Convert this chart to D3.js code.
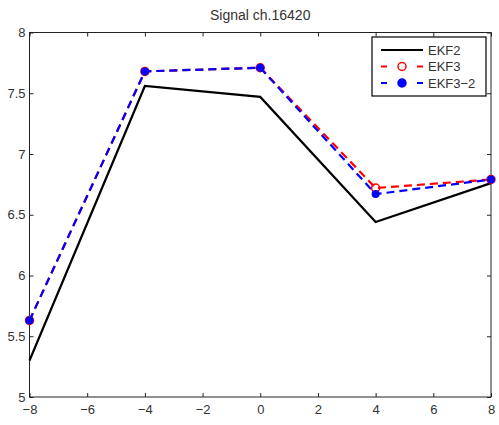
<!DOCTYPE html>
<html>
<head>
<meta charset="utf-8">
<script src="https://cdn.jsdelivr.net/npm/d3@7"></script>
<style>
body { margin: 0; background: #fff; }
text { font-family: "Liberation Sans", Arial, sans-serif; }
</style>
</head>
<body>
<div id="chart"></div>
<script>
var width = 499,
    height = 425;

// data
var xs = [-8, -4, 0, 4, 8];
var ekf2 = [5.30, 7.56, 7.47, 6.44, 6.76];
var ekf3 = [5.63, 7.68, 7.71, 6.72, 6.79];
var ekf3b = [5.63, 7.68, 7.71, 6.67, 6.79];
var xTicks = [-8, -6, -4, -2, 0, 2, 4, 6, 8];
var yTicks = [5, 5.5, 6, 6.5, 7, 7.5, 8];
var title = "Signal ch.16420";

var padL = 29.5, padR = 491, padT = 32.5, padB = 397;

var x = d3.scaleLinear().domain([-8, 8]).range([padL, padR]);
var y = d3.scaleLinear().domain([5, 8]).range([padB, padT]);

var svg = d3.select("#chart").append("svg")
        .attr("width", width)
        .attr("height", height);

var fmt = function (d) { return String(d).replace("-", "\u2212"); };

// frame
svg.append("rect")
        .attr("x", padL)
        .attr("y", padT)
        .attr("width", padR - padL)
        .attr("height", padB - padT)
        .attr("fill", "#fff")
        .attr("stroke", "#222")
        .attr("stroke-width", 1);

// axes, ticks pointing inward on all sides
var gx = svg.append("g")
        .attr("transform", "translate(0," + padB + ")")
        .call(d3.axisBottom(x).tickValues(xTicks).tickSize(-4).tickPadding(8).tickFormat(fmt));
var gxt = svg.append("g")
        .attr("transform", "translate(0," + padT + ")")
        .call(d3.axisTop(x).tickValues(xTicks).tickSize(-4).tickFormat(""));
var gy = svg.append("g")
        .attr("transform", "translate(" + padL + ",0)")
        .call(d3.axisLeft(y).tickValues(yTicks).tickSize(-4).tickPadding(4).tickFormat(fmt));
var gyr = svg.append("g")
        .attr("transform", "translate(" + padR + ",0)")
        .call(d3.axisRight(y).tickValues(yTicks).tickSize(-4).tickFormat(""));

[gx, gxt, gy, gyr].forEach(function (g) {
    g.select(".domain").remove();
    g.selectAll("line").attr("stroke", "#222");
    g.selectAll("text")
            .attr("fill", "#333")
            .style("font-size", "13px");
});

// title
svg.append("text")
        .attr("x", (padL + padR) / 2)
        .attr("y", 20)
        .attr("text-anchor", "middle")
        .attr("fill", "#333")
        .style("font-size", "14px")
        .text(title);

var line = d3.line()
        .x(function (d) { return x(d[0]); })
        .y(function (d) { return y(d[1]); });

function pairs(vals) {
    return xs.map(function (v, i) { return [v, vals[i]]; });
}

svg.append("path")
        .attr("d", line(pairs(ekf2)))
        .attr("fill", "none")
        .attr("stroke", "#000")
        .attr("stroke-width", 2.2);

svg.append("path")
        .attr("d", line(pairs(ekf3)))
        .attr("fill", "none")
        .attr("stroke", "#f00")
        .attr("stroke-width", 2.2)
        .attr("stroke-dasharray", "8,5");

svg.selectAll(".m3")
        .data(pairs(ekf3))
        .enter().append("circle")
        .attr("cx", function (d) { return x(d[0]); })
        .attr("cy", function (d) { return y(d[1]); })
        .attr("r", 4)
        .attr("fill", "none")
        .attr("stroke", "#f00")
        .attr("stroke-width", 1.5);

svg.append("path")
        .attr("d", line(pairs(ekf3b)))
        .attr("fill", "none")
        .attr("stroke", "#00f")
        .attr("stroke-width", 2.2)
        .attr("stroke-dasharray", "8,5");

svg.selectAll(".m32")
        .data(pairs(ekf3b))
        .enter().append("circle")
        .attr("cx", function (d) { return x(d[0]); })
        .attr("cy", function (d) { return y(d[1]); })
        .attr("r", 4)
        .attr("fill", "#00f");

// legend
var legend = svg.append("g");
legend.append("rect")
        .attr("x", 372)
        .attr("y", 37)
        .attr("width", 114)
        .attr("height", 59)
        .attr("fill", "#fff")
        .attr("stroke", "#000")
        .attr("stroke-width", 1.2);

var entries = [
    {name: "EKF2", color: "#000", dash: null, marker: null},
    {name: "EKF3", color: "#f00", dash: "6,30", marker: "open"},
    {name: "EKF3\u22122", color: "#00f", dash: "6,30", marker: "fill"}
];
entries.forEach(function (e, i) {
    var ly = 50 + i * 16.5;
    legend.append("line")
            .attr("x1", 381).attr("x2", 423)
            .attr("y1", ly).attr("y2", ly)
            .attr("stroke", e.color)
            .attr("stroke-width", 2.2)
            .attr("stroke-dasharray", e.dash);
    if (e.marker) {
        legend.append("circle")
                .attr("cx", 402).attr("cy", ly)
                .attr("r", 4)
                .attr("fill", e.marker === "fill" ? e.color : "none")
                .attr("stroke", e.color)
                .attr("stroke-width", 1.5);
    }
    legend.append("text")
            .attr("x", 428)
            .attr("y", ly)
            .attr("dy", "0.35em")
            .attr("fill", "#333")
            .style("font-size", "13px")
            .text(e.name);
});
</script>
</body>
</html>
